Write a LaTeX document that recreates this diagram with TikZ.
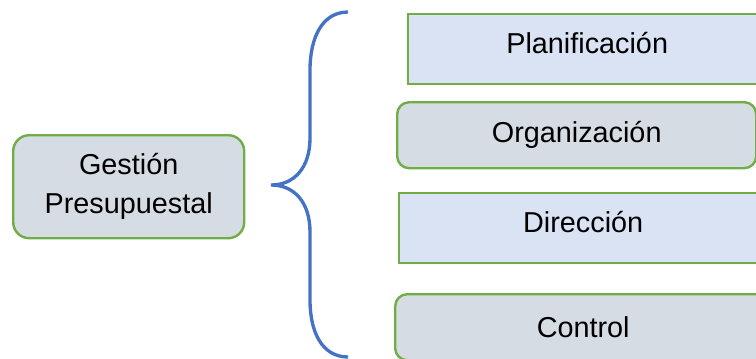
\documentclass[tikz,border=0pt]{standalone}
\usepackage{fontspec}
\setmainfont{Liberation Sans}
\usepackage{xcolor}
\usetikzlibrary{positioning,calc}

\definecolor{boxgreen}{HTML}{70AD47}
\definecolor{boxblue}{HTML}{DAE3F3}
\definecolor{boxgray}{HTML}{D6DCE4}
\definecolor{bracecol}{HTML}{4472C4}

\tikzset{
  sharpbox/.style={draw=boxgreen, fill=boxblue, line width=1.8pt, anchor=north west,
                   inner sep=0pt, align=center, text depth=9pt,
                   font=\fontsize{21.6}{29}\selectfont},
  roundbox/.style={sharpbox, fill=boxgray, text depth=, rounded corners=9pt}
}

\begin{document}
\begin{tikzpicture}[x=0.75pt,y=-0.75pt]

\useasboundingbox (0,0) rectangle (756,358);
\clip (0,0) rectangle (756,358);

%Main box on the left
\node[roundbox, rounded corners=12pt, minimum width=173.25pt, minimum height=77.25pt]
  (gestion) at (12,134) {Gestión\\Presupuestal};

%Boxes on the right
\node[sharpbox, minimum width=268.5pt, minimum height=52.5pt] (planif) at (407,13) {Planificación};
\node[roundbox, minimum width=269.25pt, minimum height=49.5pt] (organiz) at (396,101) {Organización};
\node[sharpbox, minimum width=276pt, minimum height=52.5pt] (direcc) at (398,192) {Dirección};
\node[roundbox, minimum width=282pt, minimum height=49.5pt] (control) at (394,293) {Control};

%Draw the brace
\coordinate (top) at (348,12);
\coordinate (tip) at (271,185);
\coordinate (bottom) at (348,357);
\draw[bracecol, line width=2.5pt]
  (top) .. controls (322,12) and (310,38) .. (310,70)
  -- (310,138) .. controls (310,168) and (294,185) .. (tip)
  .. controls (294,185) and (310,202) .. (310,232)
  -- (310,300) .. controls (310,332) and (322,357) .. (bottom);

\end{tikzpicture}
\end{document}
